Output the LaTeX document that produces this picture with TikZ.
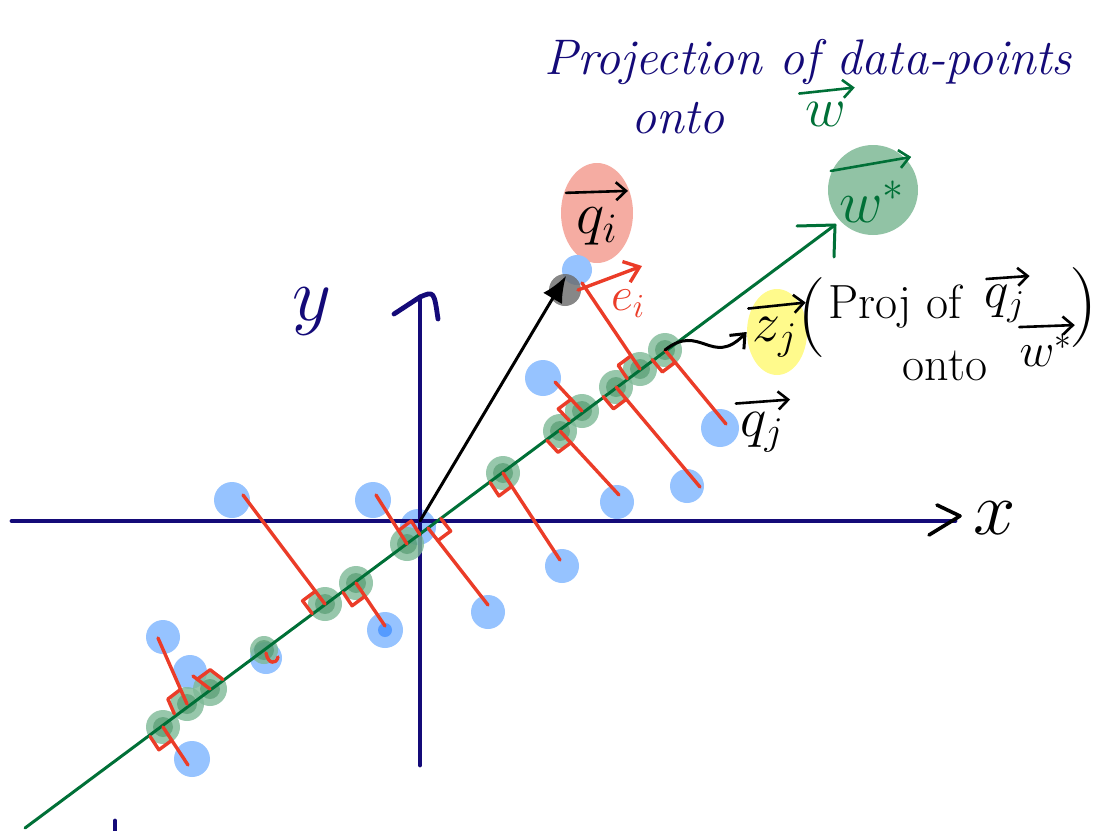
\RequirePackage{fix-cm}
\documentclass[tikz,border=0pt]{standalone}
\usepackage{fontspec}
\usetikzlibrary{calc,arrows.meta,shapes.geometric}
\definecolor{navy}{RGB}{20,10,120}
\definecolor{wgreen}{RGB}{0,112,55}
\definecolor{gblob}{RGB}{125,185,150}
\definecolor{gdark}{RGB}{70,145,100}
\definecolor{bluec}{RGB}{150,195,255}
\definecolor{bluedk}{RGB}{85,155,255}
\definecolor{redc}{RGB}{235,60,40}
\definecolor{pinkc}{RGB}{245,172,162}
\definecolor{yellowc}{RGB}{255,250,140}
\definecolor{wblob}{RGB}{145,195,165}
\definecolor{grayc}{RGB}{105,105,105}
\newcommand\hsz[1]{\fontsize{#1}{#1}\selectfont}
\newcommand\rtmark[3]{%
  \path ($(#1)!8pt!(#2)$) coordinate (rmA) ($(#1)!8pt!(#3)$) coordinate (rmB);
  \draw[redln] (rmA) -- ($(rmA)+(rmB)-(#1)$) -- (rmB);}
\begin{document}
\begin{tikzpicture}[x=0.5pt,y=-0.5pt,
  bpt/.style={circle,fill=bluec,minimum size=18pt,inner sep=0pt},
  gpt/.style={circle,fill=gblob,fill opacity=0.8,minimum size=17pt,inner sep=0pt},
  redln/.style={draw=redc,line width=1.7pt,line cap=round,line join=round},
  axisln/.style={draw=navy,line width=2.4pt,line cap=round,line join=round},
  wln/.style={draw=wgreen,line width=1.5pt,line cap=round,line join=round},
  blk/.style={draw=black,line width=1.5pt,line cap=round,line join=round},
  varr/.style={draw=black,line width=1.3pt,line cap=round,-{Straight Barb[length=5pt,width=9pt]}},
  lab/.style={inner sep=0pt}]
\useasboundingbox (0,0) rectangle (1108,830);

% blobs behind labels
\node[ellipse,fill=pinkc,minimum width=36pt,minimum height=50pt,inner sep=0pt] (pink) at (597,213) {};
\node[ellipse,fill=yellowc,minimum width=30pt,minimum height=43pt,inner sep=0pt] (ylw) at (777,332) {};
\node[circle,fill=wblob,minimum size=45pt,inner sep=0pt] (wb) at (873,190) {};

% blue data points
\node[bpt] (b1) at (232,500) {};
\node[bpt] (b2) at (373,500) {};
\node[bpt] (b3) at (418,527) {};
\node[bpt] (b4) at (385,630) {};
\node[bpt,minimum size=16pt] (b5) at (266,658) {};
\node[bpt,minimum size=17pt] (b6) at (163,637) {};
\node[bpt,minimum size=17pt] (b7) at (190,672) {};
\node[bpt] (b8) at (192,759) {};
\node[bpt] (b9) at (543,378) {};
\node[bpt,minimum size=17pt] (b10) at (488,612) {};
\node[bpt,minimum size=17pt] (b11) at (562,566) {};
\node[bpt,minimum size=17pt] (b12) at (617,502) {};
\node[bpt,minimum size=17pt] (b13) at (687,486) {};
\node[bpt,minimum size=19pt] (b14) at (720,428) {};
\node[bpt,minimum size=15pt] (bq) at (577,270) {};
\fill[bluedk] (b4) circle (3.5pt);
\node[circle,fill=grayc,fill opacity=0.8,minimum size=16pt,inner sep=0pt] (gq) at (565,290) {};

% axes
\coordinate (xs) at (12,521);
\coordinate (xe) at (955,521);
\coordinate (ys) at (420,765);
\coordinate (ye) at (420,297);
\draw[axisln] (xs) -- (xe);
\draw[axisln] (ys) -- (ye);
\draw[axisln] ($(ye)+(-26,17)$) -- (ye) .. controls ($(ye)+(14,-6)$) .. ($(ye)+(18,22)$);
\draw[blk,line width=1.8pt] ($(xe)+(-18,-16)$) -- ($(xe)+(5,-5)$) -- ($(xe)+(-26,14)$);
\node[lab,text=black,font=\hsz{38}] (xl) at (995,518) {$x$};
\node[lab,text=navy,font=\hsz{38}] (yl) at (312,312) {$y$};
\coordinate (m1) at (115,821);
\coordinate (m2) at (115,830);
\draw[axisln] (m1) -- (m2);

% green dots (projections)
\node[gpt] (g1) at (325,604) {};
\node[gpt] (g2) at (356,583) {};
\node[gpt] (g3) at (407,544) {};
\node[gpt,minimum size=14pt] (g4) at (264,650) {};
\node[gpt] (g5) at (187,704) {};
\node[gpt] (g6) at (210,689) {};
\node[gpt] (g7) at (163,727) {};
\node[gpt] (g8) at (503,473) {};
\node[gpt] (g9) at (560,431) {};
\node[gpt] (g10) at (582,411) {};
\node[gpt] (g11) at (616,387) {};
\node[gpt] (g12) at (640,369) {};
\node[gpt] (g13) at (665,350) {};
\foreach \g in {g1,g2,g3,g4,g5,g6,g7,g8,g9,g10,g11,g12,g13}
  \fill[gdark,opacity=0.55] (\g) circle (5pt);
\coordinate (f10) at (428,528);

% w line
\coordinate (W0) at (25,828);
\coordinate (W1) at (835,225);
\draw[wln] (W0) -- (W1);
\draw[wln] ($(W1)+(-38,1)$) -- (W1) -- ($(W1)+(-1,32)$);

% red projection lines
\coordinate (p1) at (243,495);
\coordinate (p2) at (376,495);
\coordinate (p4) at (385,626);
\coordinate (p6) at (158,638);
\coordinate (p7) at (193,676);
\coordinate (p8) at (188,765);
\coordinate (p9) at (555,382);
\coordinate (p10) at (488,605);
\coordinate (p11) at (560,560);
\coordinate (p12) at (619,495);
\coordinate (p13) at (700,487);
\coordinate (p14) at (726,424);
\coordinate (pq) at (582,283);
\draw[redln] (p1) -- (g1.center);
\draw[redln] (p2) -- (g3.center);
\draw[redln] (p4) -- (g2.center);
\draw[redln] (p6) -- (g5.center);
\draw[redln] (p7) -- (g6.center);
\draw[redln] (p8) -- (g7.center);
\draw[redln] (p9) -- (g10.center);
\draw[redln] (p10) -- (f10);
\draw[redln] (p11) -- (g8.center);
\draw[redln] (p12) -- (g9.center);
\draw[redln] (p13) -- (g11.center);
\draw[redln] (p14) -- (g13.center);
\draw[redln] (pq) -- (g12.center);

% right-angle marks
\rtmark{g1}{p1}{W0}
\rtmark{g2}{p4}{W0}
\rtmark{g3}{p2}{W1}
\rtmark{f10}{p10}{W1}
\rtmark{g5}{p6}{W0}
\rtmark{g6}{p7}{W1}
\rtmark{g7}{p8}{W0}
\rtmark{g8}{p11}{W0}
\rtmark{g9}{p12}{W0}
\rtmark{g10}{p9}{W0}
\rtmark{g11}{p13}{W0}
\rtmark{g12}{pq}{W0}
\rtmark{g13}{p14}{W0}
\draw[redln] ($(g4)+(2,3)$) .. controls ($(g4)+(4,14)$) and ($(g4)+(12,15)$) .. ($(g4)+(14,7)$);

% vector q_i
\coordinate (O) at (420,521);
\coordinate (qtip) at (566,276);
\draw[blk,-{Latex[length=13pt,width=11pt]}] (O) -- (qtip);

% e_i
\coordinate (es) at (578,290);
\coordinate (ee) at (642,266);
\draw[redln,-{Straight Barb[length=7pt,width=11pt]}] (es) -- (ee);
\node[lab,text=redc,font=\hsz{24}] (el) at (628,304) {$e_i$};

% squiggle to z_j
\draw[blk,-{Straight Barb[length=6pt,width=10pt]}] (g13.center) .. controls (700,322) and (712,368) .. (ylw.west);

% vector labels (arrows drawn above)
\node[lab,text=black,font=\hsz{30}] (qil) at (597,226) {$q_i$};
\draw[varr] ($(qil.north west)+(-10,-14)$) -- ($(qil.north east)+(10,-16)$);
\node[lab,text=wgreen,font=\hsz{30}] (wsl) at (872,202) {$w^{*}$};
\draw[varr,draw=wgreen] ($(wsl.north west)+(-8,-10)$) -- ($(wsl.north east)+(6,-24)$);
\node[lab,text=black,font=\hsz{28}] (zjl) at (775,337) {$z_j$};
\draw[varr] ($(zjl.north west)+(-4,-8)$) -- ($(zjl.north east)+(8,-14)$);
\node[lab,text=black,font=\hsz{28}] (qjl) at (762,432) {$q_j$};
\draw[varr] ($(qjl.north west)+(-4,-8)$) -- ($(qjl.north east)+(6,-12)$);

% (Proj of q_j onto w*)
\node[lab,text=black,font=\hsz{40}] (lpar) at (812,318) {(};
\node[lab,text=black,font=\hsz{24}] (proj1) at (895,307) {Proj of};
\node[lab,text=black,font=\hsz{26}] (pqj) at (1005,304) {$q_j$};
\draw[varr] ($(pqj.north west)+(2,-6)$) -- ($(pqj.north east)+(4,-9)$);
\node[lab,text=black,font=\hsz{24}] (proj2) at (945,366) {onto};
\node[lab,text=black,font=\hsz{24}] (pws) at (1046,350) {$w^{*}$};
\draw[varr] ($(pws.north west)+(0,-6)$) -- ($(pws.north east)+(2,-8)$);
\node[lab,text=black,font=\hsz{40}] (rpar) at (1084,308) {)};

% title
\node[lab,text=navy,font=\itshape\hsz{25}] (t1) at (808,62) {Projection of data-points};
\node[lab,text=navy,font=\itshape\hsz{25}] (t2) at (678,118) {onto};
\node[lab,text=wgreen,font=\hsz{28}] (t3) at (826,114) {$w$};
\draw[varr,draw=wgreen] ($(t3.north west)+(-6,-8)$) -- ($(t3.north east)+(8,-14)$);
\end{tikzpicture}
\end{document}
